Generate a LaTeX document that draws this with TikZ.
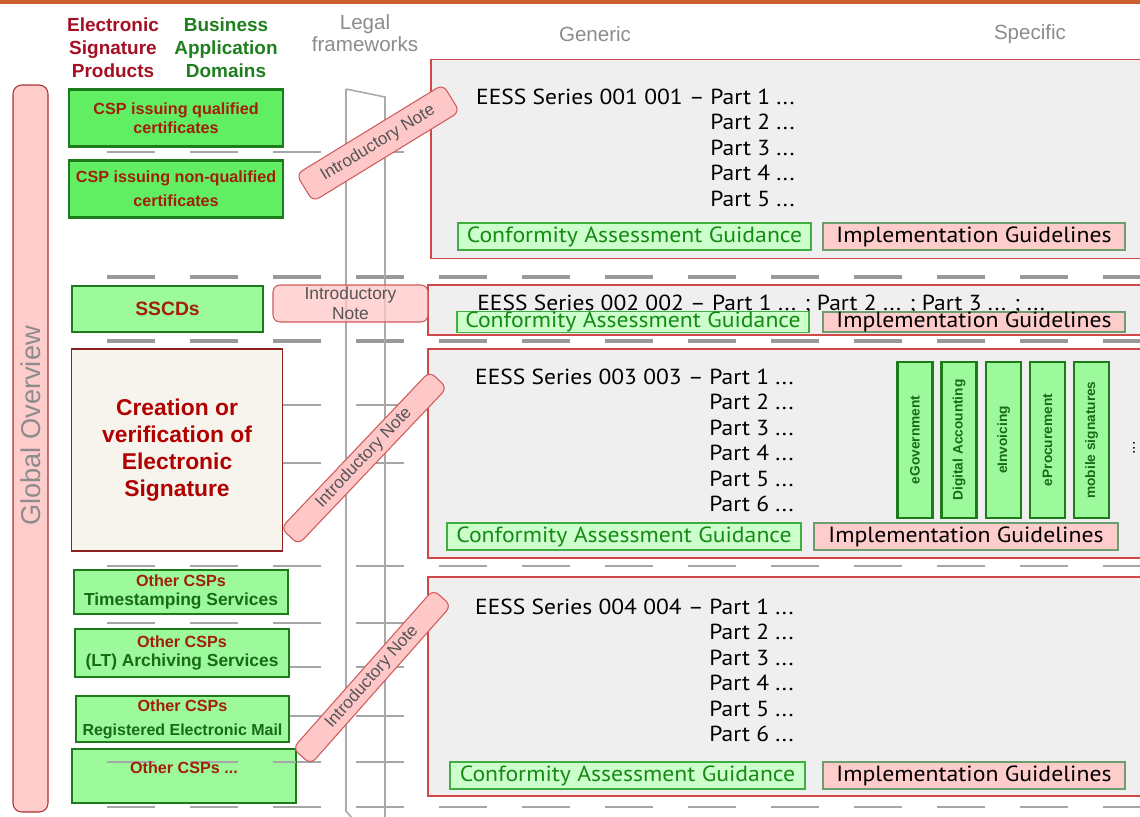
\documentclass[tikz,border=0pt]{standalone}
\usepackage{fontspec}
\setmainfont{Liberation Sans}
\newfontfamily\tahoma{PT Sans}[FakeStretch=1.08]
\usetikzlibrary{positioning}

\newcommand{\fsz}[2]{\fontsize{#1}{#2}\selectfont}

\definecolor{topbar}{HTML}{CC5F2E}
\definecolor{sigred}{HTML}{A50F24}
\definecolor{bizgreen}{HTML}{1F7F1F}
\definecolor{hdrgrey}{HTML}{8C8C8C}
\definecolor{cspred}{HTML}{A0200A}
\definecolor{boxgreen}{HTML}{1C7C1C}
\definecolor{brightgreen}{HTML}{62EE62}
\definecolor{lightgreen}{HTML}{9CFA9C}
\definecolor{domgreen}{HTML}{186A18}
\definecolor{crefill}{HTML}{F7F4EE}
\definecolor{crebord}{HTML}{8B2020}
\definecolor{crered}{HTML}{B00000}
\definecolor{notefill}{HTML}{FFC8C8}
\definecolor{notered}{HTML}{D05A5A}
\definecolor{notegrey}{HTML}{555555}
\definecolor{secgrey}{HTML}{EFEFEF}
\definecolor{secred}{HTML}{D04848}
\definecolor{cagfill}{HTML}{CCFFCC}
\definecolor{cagborder}{HTML}{3FAF3F}
\definecolor{caggreen}{HTML}{158A15}
\definecolor{igfill}{HTML}{FFCCCC}
\definecolor{igborder}{HTML}{6E9E6E}
\definecolor{gridgrey}{HTML}{A6A6A6}
\definecolor{gridthick}{HTML}{999999}
\definecolor{gofill}{HTML}{FFCCCC}
\definecolor{gobord}{HTML}{B03030}
\definecolor{legalgrey}{HTML}{AAAAAA}

\begin{document}
\begin{tikzpicture}[x=0.02cm, y=-0.02cm,
    wh/.style 2 args={minimum width=#1*0.02cm, minimum height=#2*0.02cm},
    header/.style={align=center, inner sep=0pt, font=\fsz{10.8}{13}\bfseries},
    grey header/.style={align=center, inner sep=0pt, text=hdrgrey, font=\fsz{11.7}{12.5}},
    cspbox/.style={draw=boxgreen, line width=1.6pt, fill=lightgreen, inner sep=0pt,
        align=center, text=cspred, font=\fsz{9.2}{10.8}\bfseries},
    series/.style={draw=secred, line width=0.8pt, fill=secgrey, inner sep=0pt},
    cag/.style={draw=cagborder, line width=0.6pt, fill=cagfill, text=caggreen,
        inner sep=0pt, font=\tahoma\fsz{12.5}{14}},
    impl/.style={draw=igborder, line width=0.6pt, fill=igfill, text=black,
        inner sep=0pt, font=\tahoma\fsz{12.5}{14}},
    part/.style={anchor=base west, inner sep=0pt, font=\tahoma\fsz{12.4}{14}},
    series head/.style={anchor=base east, inner sep=0pt, font=\tahoma\fsz{12.4}{14}},
    note/.style={draw=notered, line width=0.6pt, fill=notefill, rounded corners=4pt,
        text=notegrey, inner sep=0pt, font=\fsz{9.7}{11}},
    dombox/.style={draw=boxgreen, line width=1.3pt, fill=lightgreen, rotate=90,
        inner sep=0pt, text=domgreen, font=\fsz{7.8}{9}\bfseries},
    gridline/.style={draw=gridgrey, line width=0.7pt, dash pattern=on 0.96cm off 0.7cm},
    thick gridline/.style={draw=gridthick, line width=2.2pt, dash pattern=on 0.96cm off 0.7cm},
    legal sheet/.style={draw=legalgrey, line width=0.9pt},
]
    % Canvas
    \useasboundingbox (0,0) rectangle (1140,816);
    \clip (0,0) rectangle (1140,816);
    \fill[white] (0,0) rectangle (1140,816);
    \fill[topbar] (0,0) rectangle (1140,4);

    % Column headers
    \node[header, text=sigred] (esp) at (113,48) {Electronic\\Signature\\Products};
    \node[header, text=bizgreen] (bad) at (226,48) {Business\\Application\\Domains};
    \node[grey header] (legal) at (365,33) {Legal\\frameworks};
    \node[grey header] (gen) at (595,34) {Generic};
    \node[grey header] (spec) at (1030,34) {Specific};

    % Grid lines behind the boxes
    \foreach \y in {152,405,463,566,623,667,716,762,807}
        \draw[gridline] (107,\y) -- (1140,\y);
    \foreach \y in {277,341}
        \draw[thick gridline] (107,\y) -- (1140,\y);

    % Legal frameworks sheet
    \draw[legal sheet] (346,89) -- (385,97) -- (385,820);
    \draw[legal sheet] (346,89) -- (346,811) -- (352,818);

    % Global overview bar
    \node[draw=gobord, fill=gofill, rounded corners=5pt, line width=0.6pt,
        wh={35}{727}] (glob) at (30.5,448.5) {};
    \node[rotate=90, inner sep=0pt, text=hdrgrey, font=\fsz{15.5}{18}] (globt) at (31,426) {Global Overview};

    % Series boxes
    \node[series, wh={732}{199}] (s1) at (797,159) {};
    \node[series, wh={735}{50}] (s2) at (795.5,310) {};
    \node[series, wh={735}{209}] (s3) at (795.5,453.5) {};
    \node[series, wh={735}{219}] (s4) at (795.5,686.5) {};

    % Products and domains on the left
    \node[cspbox, fill=brightgreen, wh={214}{57}] (csp1) at (176,118) {CSP issuing qualified\\certificates};
    \node[cspbox, fill=brightgreen, wh={214}{57}, font=\fsz{9.2}{13.6}\bfseries] (csp2) at (176,189) {CSP issuing non-qualified\\certificates};
    \node[cspbox, wh={191}{46}, font=\fsz{11}{13}\bfseries] (sscd) at (167.5,309) {SSCDs};
    \node[draw=crebord, fill=crefill, line width=0.7pt, wh={211}{202}, align=center,
        text=crered, font=\fsz{13}{15.3}\bfseries] (create) at (177,450) {Creation or\\verification of\\Electronic\\Signature};
    \node[cspbox, wh={214}{44}, font=\fsz{9.2}{11.3}\bfseries] (tsp) at (181,592) {Other CSPs\\{\color{domgreen}\fsz{9.9}{11.3}Timestamping Services}};
    \node[cspbox, wh={214}{48}, font=\fsz{9.2}{11.3}\bfseries] (arch) at (182,653) {Other CSPs\\{\color{domgreen}\fsz{9.9}{11.3}(LT) Archiving Services}};
    \node[cspbox, wh={213}{46}, font=\fsz{9.2}{13.6}\bfseries] (rem) at (182.5,719) {Other CSPs\\{\color{domgreen}\fsz{9.1}{13.6}Registered Electronic Mail}};
    \node[cspbox, wh={224}{54}] (more) at (184,776) {};
    \draw[gridline] (107,762) -- (296,762);
    \node[text=cspred, font=\fsz{9.2}{11}\bfseries] (moret) at (184,768) {Other CSPs ...};

    % Introductory notes
    \node[note, rotate=31.5, wh={172}{32}] (note1) at (378,143) {Introductory Note};
    \node[note, fill opacity=0.75, text opacity=1, wh={155}{37}, align=center,
        font=\fsz{9.9}{11.3}] (note2) at (350.5,303.5) {Introductory\\Note};
    \node[note, rotate=46.5, wh={216}{24}] (note3) at (364,458) {Introductory Note};
    \node[note, rotate=48.5, wh={212}{24}] (note4) at (372,677) {Introductory Note};

    % Series 001
    \node[series head] (s1h) at (705,104) {EESS Series 001 001 –};
    \foreach \i in {1,...,5}
        \node[part] (s1p\i) at (710,78.5+25.5*\i) {Part \i\ ...};
    \node[cag, wh={353}{27}] (cag1) at (634.5,236.5) {Conformity Assessment Guidance};
    \node[impl, wh={302}{27}] (ig1) at (974,236.5) {Implementation Guidelines};

    % Series 002
    \node[part] (s2t) at (477,310) {EESS Series 002 002 – Part 1 ... ; Part 2 ... ; Part 3 ... ; ...};
    \node[cag, wh={352}{19}] (cag2) at (633,322) {Conformity Assessment Guidance};
    \node[impl, wh={302}{19}] (ig2) at (974,322) {Implementation Guidelines};

    % Series 003
    \node[series head] (s3h) at (704,384) {EESS Series 003 003 –};
    \foreach \i in {1,...,6}
        \node[part] (s3p\i) at (709,358.5+25.5*\i) {Part \i\ ...};
    \foreach \x/\lbl [count=\k] in {915/eGovernment, 959/Digital Accounting,
        1003.5/eInvoicing, 1047.5/eProcurement, 1091.5/mobile signatures}
        \node[dombox, wh={156}{35}] (dom\k) at (\x,440) {\lbl};
    \node[rotate=90, inner sep=0pt, font=\fsz{9}{10}] (dots) at (1134,448) {...};
    \node[cag, wh={354}{27}] (cag3) at (624,536.5) {Conformity Assessment Guidance};
    \node[impl, wh={304}{27}] (ig3) at (966,536.5) {Implementation Guidelines};

    % Series 004
    \node[series head] (s4h) at (704,614) {EESS Series 004 004 –};
    \foreach \i in {1,...,6}
        \node[part] (s4p\i) at (709,588.5+25.5*\i) {Part \i\ ...};
    \node[cag, wh={355}{27}] (cag4) at (627.5,775.5) {Conformity Assessment Guidance};
    \node[impl, wh={302}{27}] (ig4) at (974,775.5) {Implementation Guidelines};
\end{tikzpicture}
\end{document}
